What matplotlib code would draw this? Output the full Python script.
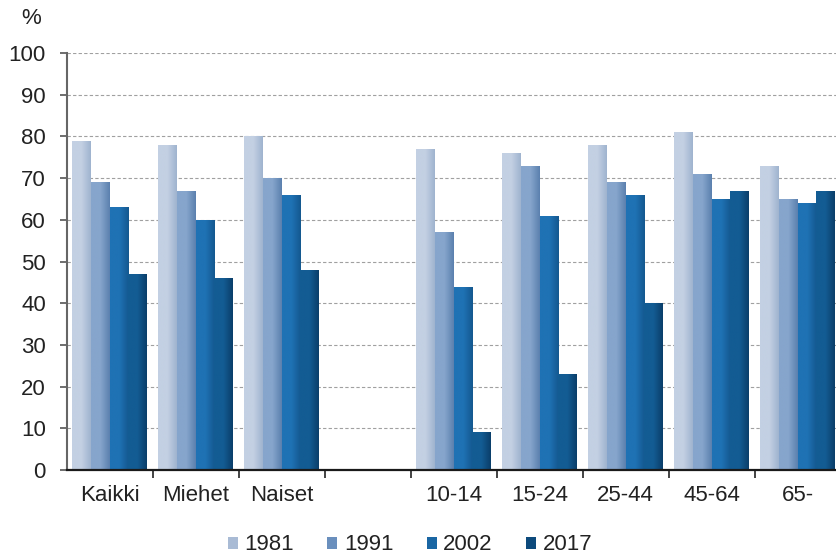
import numpy as np
import matplotlib
matplotlib.use("Agg")
import matplotlib.pyplot as plt
from matplotlib.colors import LinearSegmentedColormap
from matplotlib.patches import Patch

plt.rcParams['font.family'] = ['Liberation Sans', 'DejaVu Sans']

# data ("" is the empty gap slot)
categories = ["Kaikki", "Miehet", "Naiset", "", "10-14", "15-24", "25-44", "45-64", "65-"]
years = ["1981", "1991", "2002", "2017"]
v1981 = [79, 78, 80, None, 77, 76, 78, 81, 73]
v1991 = [69, 67, 70, None, 57, 73, 69, 71, 65]
v2002 = [63, 60, 66, None, 44, 61, 66, 65, 64]
v2017 = [47, 46, 48, None, 9, 23, 40, 67, 67]
series = [v1981, v1991, v2002, v2017]

# (left, right) shades for the gradient look of each series
shades = [("#c3d0e3", "#9fb3cf"),
          ("#86a5cc", "#5b80ae"),
          ("#1f72b4", "#14588f"),
          ("#135c93", "#0a3e6a")]
legend_colors = ["#a9bbd5", "#6a8fbd", "#1a66a3", "#0d4a7c"]

fig = plt.figure(figsize=(8.37, 5.56), dpi=100)
ax = fig.add_axes([66.7 / 837, 86 / 556, 774 / 837, 417 / 556])

x = np.arange(len(categories)) + 0.5
width = 0.218
grad = np.linspace(0, 1, 64).reshape(1, -1)

for i, (vals, (c0, c1)) in enumerate(zip(series, shades)):
    h = np.array([np.nan if v is None else v for v in vals], dtype=float)
    pos = x + (i - 1.5) * width
    bars = ax.bar(pos, h, width=width, color=c1, linewidth=0, zorder=2)
    cmap = LinearSegmentedColormap.from_list("s%d" % i, [c0, c0, c1])
    for b in bars:
        if np.isnan(b.get_height()):
            continue
        x0, y0 = b.get_x(), b.get_y()
        im = ax.imshow(grad, cmap=cmap, aspect="auto", zorder=3,
                       extent=[x0, x0 + b.get_width(), y0, y0 + b.get_height()])
        im.set_clip_path(b)

ax.set_xlim(0, len(categories))
ax.set_ylim(0, 100)
ax.set_yticks(range(0, 101, 10))
ax.yaxis.grid(True, linestyle=(0, (3, 2)), color="#a0a0a0", linewidth=0.8, zorder=0)
ax.set_axisbelow(True)

ax.set_xticks(range(1, len(categories)))
ax.set_xticklabels([])
ax.set_xticks(x, minor=True)
ax.set_xticklabels(categories, minor=True)
ax.tick_params(axis="x", which="major", length=6, width=1.2, color="#222222", direction="out")
ax.tick_params(axis="x", which="minor", length=0, pad=11, labelsize=16, labelcolor="#222222")
ax.tick_params(axis="y", length=5, width=1.2, color="#555555", labelsize=16,
               labelcolor="#222222", pad=10)

for s in ["top", "right"]:
    ax.spines[s].set_visible(False)
ax.spines["left"].set_color("#666666")
ax.spines["left"].set_linewidth(1.5)
ax.spines["bottom"].set_color("#1a1a1a")
ax.spines["bottom"].set_linewidth(1.6)
ax.spines["bottom"].set_zorder(5)

fig.text(21 / 837, 1 - 18 / 556, "%", fontsize=16, color="#222222", va="center")

handles = [Patch(facecolor=c, edgecolor="none") for c in legend_colors]
fig.legend(handles, years, loc="center", bbox_to_anchor=(410 / 837, 1 - 545 / 556),
           ncol=4, frameon=False, fontsize=16, handlelength=0.45, handleheight=0.45,
           handletextpad=0.3, columnspacing=1.5, labelcolor="#222222")

fig.savefig("out.png", dpi=100)
